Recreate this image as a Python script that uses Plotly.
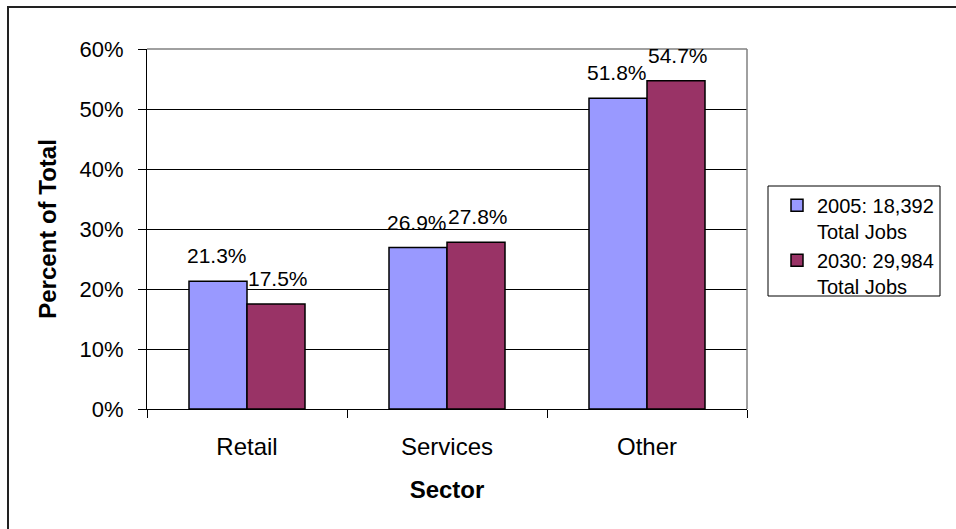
import plotly.graph_objects as go

# Job share by sector, 2005 vs 2030
sectors = ["Retail", "Services", "Other"]
share_2005 = [21.3, 26.9, 51.8]
share_2030 = [17.5, 27.8, 54.7]
series_names = ["2005: 18,392<br>Total Jobs", "2030: 29,984<br>Total Jobs"]
series_colors = ["#9999FF", "#993366"]
y_ticks = [0, 10, 20, 30, 40, 50, 60]
y_tick_text = [f"{t}%" for t in y_ticks]

FONT = "Liberation Sans, Arial, sans-serif"
AXIS_FS = 24
YTICK_FS = 22
LABEL_FS = 21
LEGEND_FS = 20

# plot-area geometry in pixels
W, H = 956, 529
ML, MR, MT, MB = 147, 209, 49, 120
PLOT_W = W - ML - MR
PLOT_H = H - MT - MB
BARGAP = 0.42
bar_px = PLOT_W / len(sectors) * (1 - BARGAP) / 2

fig = go.Figure()
all_series = [share_2005, share_2030]
for i, (name, vals, color) in enumerate(zip(series_names, all_series, series_colors)):
    fig.add_trace(go.Bar(
        x=sectors, y=vals, name=name,
        marker=dict(color=color, line=dict(color="black", width=1.5)),
    ))
    # value labels above each bar
    for cat, v in zip(sectors, vals):
        fig.add_annotation(
            x=cat, y=v, xref="x", yref="y",
            text=f"{v:.1f}%", showarrow=False,
            xanchor="center", yanchor="bottom",
            xshift=(i - 0.5) * bar_px + (2 if i else -1), yshift=12,
            font=dict(family=FONT, size=LABEL_FS, color="black"),
        )

fig.update_layout(
    width=W, height=H,
    margin=dict(l=ML, r=MR, t=MT, b=MB),
    paper_bgcolor="white", plot_bgcolor="white",
    barmode="group", bargap=BARGAP, bargroupgap=0,
    font=dict(family=FONT, size=AXIS_FS, color="black"),
    showlegend=True,
    legend=dict(
        x=(777 - ML) / PLOT_W, y=0.62, xanchor="left", yanchor="top",
        borderwidth=0, bgcolor="rgba(0,0,0,0)",
        font=dict(family=FONT, size=LEGEND_FS, color="black"),
        valign="top", itemwidth=30,
    ),
    xaxis=dict(
        showline=True, linecolor="black", linewidth=1,
        ticks="outside", ticklen=8, tickcolor="black", tickson="boundaries",
        ticklabelstandoff=16,
        tickfont=dict(size=AXIS_FS),
        title=dict(text="<b>Sector</b>", font=dict(size=AXIS_FS), standoff=22),
        showgrid=False,
    ),
    yaxis=dict(
        range=[0, 60], tickmode="array", tickvals=y_ticks, ticktext=y_tick_text,
        showline=True, linecolor="black", linewidth=1,
        ticks="outside", ticklen=8, tickcolor="black",
        ticklabelstandoff=10,
        tickfont=dict(size=YTICK_FS),
        showgrid=True, gridcolor="black", gridwidth=1,
        zeroline=False,
        title=dict(text="<b>Percent of Total</b>", font=dict(size=AXIS_FS), standoff=16),
    ),
)

# gray frame on top and right of the plot area
fig.add_shape(type="line", xref="paper", yref="paper", x0=0, x1=1, y0=1, y1=1,
              line=dict(color="#808080", width=1.5))
fig.add_shape(type="line", xref="paper", yref="paper", x0=1, x1=1, y0=0, y1=1,
              line=dict(color="#808080", width=1.5))
# legend box
fig.add_shape(type="rect", xref="paper", yref="paper",
              x0=(768 - ML) / PLOT_W, x1=(940 - ML) / PLOT_W,
              y0=(H - MB - 296) / PLOT_H, y1=(H - MB - 186) / PLOT_H,
              line=dict(color="black", width=1), fillcolor="white", layer="below")
# outer chart border
fig.add_shape(type="rect", xref="paper", yref="paper",
              x0=(8 - ML) / PLOT_W, x1=(990 - ML) / PLOT_W,
              y0=(H - MB - 560) / PLOT_H, y1=(H - MB - 7) / PLOT_H,
              line=dict(color="#222222", width=2), layer="below")

fig.write_html("out.html")
